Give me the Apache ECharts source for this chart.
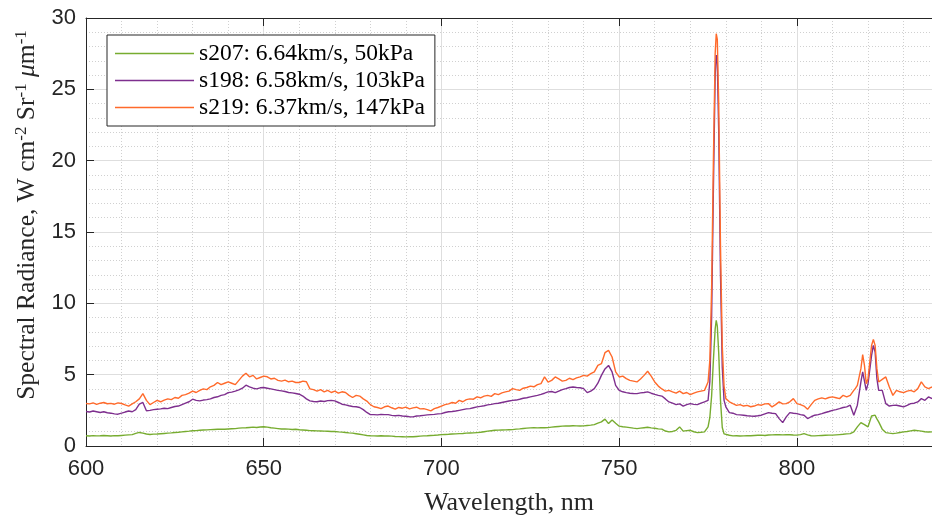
<!DOCTYPE html>
<html>
<head>
<meta charset="utf-8">
<script src="https://cdn.jsdelivr.net/npm/echarts@6/dist/echarts.min.js"></script>
<style>html,body{margin:0;padding:0;background:#fff;}#c{width:932px;height:521px;}</style>
</head>
<body>
<div id="c"></div>
<script>
const wavelength = [
600,601,602,603,604,605,606,607,608,609,
610,611,612,613,614,615,616,617,618,619,
620,621,622,623,624,625,626,627,628,629,
630,631,632,633,634,635,636,637,638,639,
640,641,642,643,644,645,646,647,648,649,
650,651,652,653,654,655,656,657,658,659,
660,661,662,663,664,665,666,667,668,669,
670,671,672,673,674,675,676,677,678,679,
680,681,682,683,684,685,686,687,688,689,
690,691,692,693,694,695,696,697,698,699,
700,701,702,703,704,705,706,707,708,709,
710,711,712,713,714,715,716,717,718,719,
720,721,722,723,724,725,726,727,728,729,
730,731,732,733,734,735,736,737,738,739,
740,741,742,743,744,745,746,747,748,749,
750,751,752,753,754,755,756,757,758,759,
760,761,762,763,764,765,766,767,768,769,
770,771,772,773,774,775,
775.5,776,776.5,777,777.3,777.6,778,778.5,779,779.5,780,
781,782,783,784,785,786,787,788,789,790,
791,792,793,794,795,796,797,798,799,800,
801,802,803,804,805,806,807,808,809,810,
811,812,813,814,815,816,
816.5,817,818,818.5,819,819.5,820,821,821.5,822,822.5,
823,824,825,826,827,828,829,830,831,832,
833,834,835,836,837,838
];

const s207 = [
0.72,0.7,0.73,0.71,0.72,0.74,0.72,0.7,0.73,0.72,
0.74,0.76,0.78,0.8,0.88,0.95,0.9,0.84,0.81,0.83,
0.84,0.86,0.88,0.9,0.92,0.95,0.96,0.99,1.02,1.04,
1.07,1.08,1.1,1.12,1.13,1.15,1.16,1.17,1.18,1.17,
1.19,1.21,1.22,1.25,1.27,1.28,1.3,1.32,1.3,1.33,
1.35,1.32,1.28,1.25,1.22,1.19,1.2,1.18,1.16,1.17,
1.14,1.12,1.1,1.08,1.07,1.06,1.05,1.04,1.03,1.02,
1.02,0.99,0.97,0.95,0.92,0.9,0.86,0.82,0.78,0.74,
0.72,0.71,0.7,0.72,0.7,0.71,0.69,0.67,0.66,0.65,
0.64,0.66,0.65,0.67,0.69,0.71,0.72,0.74,0.75,0.77,
0.8,0.81,0.82,0.84,0.85,0.87,0.88,0.9,0.91,0.92,
0.94,0.96,1.0,1.04,1.07,1.1,1.11,1.12,1.13,1.14,
1.15,1.18,1.2,1.23,1.25,1.27,1.28,1.27,1.29,1.28,
1.29,1.32,1.35,1.37,1.39,1.41,1.4,1.42,1.41,1.4,
1.41,1.44,1.46,1.5,1.6,1.69,1.88,1.57,1.83,1.6,
1.39,1.35,1.32,1.29,1.25,1.22,1.25,1.28,1.31,1.27,
1.24,1.2,1.18,1.05,0.99,1.02,1.1,1.34,1.04,1.08,
1.1,1.0,0.94,0.96,0.99,1.34,
2.0,3.5,6.0,8.2,8.8,8.4,6.5,3.2,1.3,0.85,0.8,
0.75,0.71,0.72,0.7,0.71,0.73,0.72,0.74,0.75,0.76,
0.74,0.77,0.78,0.79,0.8,0.78,0.8,0.79,0.77,0.76,
0.8,0.87,0.78,0.72,0.71,0.73,0.74,0.75,0.76,0.76,
0.78,0.8,0.82,0.85,0.87,0.99,
1.1,1.34,1.64,1.6,1.5,1.4,1.34,2.1,2.18,2.16,1.9,
1.69,1.18,0.94,0.9,0.87,0.9,0.95,0.99,1.02,1.06,
1.1,1.08,1.04,1.0,0.98,0.99
];

const s198 = [
2.42,2.38,2.45,2.4,2.35,2.4,2.33,2.3,2.25,2.23,
2.3,2.38,2.45,2.4,2.55,2.93,3.05,2.47,2.5,2.55,
2.58,2.6,2.65,2.62,2.7,2.77,2.8,2.9,3.0,3.1,
3.28,3.2,3.16,3.22,3.25,3.3,3.4,3.45,3.55,3.6,
3.74,3.78,3.85,3.93,4.05,4.26,4.15,4.05,4.0,4.08,
4.1,4.05,4.0,3.95,3.9,3.86,3.82,3.75,3.72,3.68,
3.63,3.5,3.3,3.16,3.12,3.1,3.15,3.12,3.18,3.2,
3.16,3.05,2.93,2.88,2.82,2.77,2.75,2.7,2.55,2.35,
2.2,2.2,2.18,2.22,2.2,2.2,2.15,2.12,2.15,2.1,
2.09,2.05,2.04,2.1,2.12,2.15,2.18,2.2,2.22,2.25,
2.27,2.35,2.4,2.42,2.45,2.5,2.55,2.6,2.62,2.68,
2.74,2.78,2.82,2.88,2.92,2.97,3.0,3.05,3.1,3.15,
3.2,3.22,3.28,3.35,3.38,3.44,3.5,3.55,3.62,3.7,
3.79,3.82,3.74,3.85,3.95,4.02,4.1,4.14,4.1,4.08,
4.02,3.74,3.85,4.02,4.4,4.95,5.4,5.65,5.19,4.25,
3.9,3.8,3.74,3.7,3.68,3.67,3.72,3.75,3.79,3.7,
3.62,3.55,3.5,3.3,3.09,3.0,2.9,2.95,2.8,2.9,
2.97,2.92,2.9,3.0,3.09,3.2,
4.5,9.0,18.0,26.0,27.4,26.8,22.0,12.0,5.5,3.2,2.74,
2.34,2.3,2.2,2.18,2.16,2.12,2.1,2.09,2.12,2.16,
2.25,2.34,2.3,2.27,1.92,1.64,2.04,2.34,2.3,2.27,
2.2,2.16,1.92,2.05,2.16,2.2,2.27,2.35,2.42,2.5,
2.55,2.62,2.7,2.74,2.86,2.16,
2.04,2.86,4.49,5.19,5.07,3.9,4.37,6.35,7.05,6.59,4.72,
3.9,3.9,2.97,2.8,2.85,2.86,2.8,2.74,2.85,2.97,
3.0,3.09,3.32,3.2,3.44,3.32
];

const s219 = [
2.98,2.95,3.02,2.92,3.0,3.05,2.96,2.99,2.93,3.02,
2.98,2.88,2.8,2.95,3.1,3.3,3.67,3.2,2.9,3.05,
3.2,3.1,3.22,3.3,3.25,3.4,3.35,3.55,3.6,3.7,
3.85,3.75,3.9,4.0,3.95,4.15,4.25,4.45,4.3,4.4,
4.5,4.4,4.3,4.6,4.9,5.1,4.85,4.95,4.7,4.8,
4.9,4.85,4.7,4.75,4.6,4.55,4.62,4.5,4.55,4.45,
4.45,4.55,4.5,4.0,3.95,3.85,3.95,3.8,3.9,3.75,
3.85,3.7,3.8,3.75,3.55,3.4,3.55,3.5,3.3,3.15,
2.9,2.75,2.7,2.62,2.75,2.8,2.68,2.58,2.7,2.65,
2.72,2.6,2.67,2.72,2.6,2.62,2.55,2.46,2.62,2.7,
2.8,2.9,2.95,3.05,3.0,3.2,3.1,3.25,3.3,3.28,
3.44,3.38,3.5,3.55,3.48,3.67,3.6,3.72,3.79,3.85,
4.02,3.95,3.9,4.05,4.1,4.2,4.15,4.3,4.37,4.84,
4.48,4.6,4.84,4.7,4.55,4.6,4.75,4.65,4.77,4.85,
4.95,4.9,5.07,5.2,5.65,5.77,6.54,6.7,6.24,5.19,
4.84,4.9,4.72,4.6,4.55,4.49,4.7,4.95,5.24,4.9,
4.49,4.2,4.0,3.85,3.9,3.79,3.7,3.85,3.67,3.75,
3.6,3.7,3.79,3.85,3.9,4.49,
6.0,11.0,20.0,27.5,28.9,28.5,24.0,14.0,7.0,4.2,3.32,
3.1,2.97,2.85,2.9,2.8,2.85,2.75,2.8,2.9,2.86,
2.95,2.97,2.74,2.9,3.09,2.95,2.97,3.1,3.32,2.97,
2.9,2.8,2.57,2.9,3.2,3.3,3.37,3.3,3.4,3.44,
3.38,3.32,3.55,3.45,3.55,3.9,
4.05,4.25,5.42,6.4,5.65,4.37,4.72,7.05,7.47,7.05,5.42,
4.49,4.67,4.84,4.14,3.55,3.9,3.8,3.74,3.85,3.9,
3.8,4.02,4.49,4.14,4.02,4.14
];

const seriesNames = ['s207: 6.64km/s, 50kPa', 's198: 6.58km/s, 103kPa', 's219: 6.37km/s, 147kPa'];
const seriesValues = [s207, s198, s219];
const seriesColors = ['#77AC30', '#7E2F8E', '#FF6A2B'];
const xRange = [600, 838];
const xStep = 50;
const yRange = [0, 30];
const yStep = 5;

const chart = echarts.init(document.getElementById('c'), null, {renderer: 'canvas'});
const axisColor = '#262626';
const labelFont = "'Liberation Sans', Arial, sans-serif";
const serifFont = "'Liberation Serif', 'Times New Roman', serif";

const series = seriesNames.map((name, i) => ({
  name: name,
  type: 'line',
  symbol: 'none',
  showSymbol: false,
  animation: false,
  data: wavelength.map((w, j) => [w, seriesValues[i][j]]),
  lineStyle: {color: seriesColors[i], width: 1.4},
  itemStyle: {color: seriesColors[i]},
  z: 3 + i
}));

chart.setOption({
  animation: false,
  backgroundColor: '#fff',
  grid: {left: 86, top: 18, right: 0, bottom: 74, containLabel: false},
  legend: {
    orient: 'vertical',
    left: 107, top: 35,
    padding: [5, 10, 5, 8],
    backgroundColor: '#fff',
    borderColor: axisColor,
    borderWidth: 1,
    borderRadius: 0,
    icon: 'rect',
    itemWidth: 79,
    itemHeight: 1.6,
    itemGap: 0,
    textStyle: {fontFamily: serifFont, fontSize: 23.5, color: '#000', lineHeight: 27},
    data: seriesNames
  },
  xAxis: [{
    type: 'value', min: xRange[0], max: xRange[1], interval: xStep,
    name: 'Wavelength, nm', nameLocation: 'middle', nameGap: 44,
    nameTextStyle: {fontFamily: serifFont, fontSize: 26, color: axisColor},
    axisLine: {show: true, lineStyle: {color: axisColor, width: 1}},
    axisTick: {show: true, inside: true, length: 8, lineStyle: {color: axisColor}},
    axisLabel: {fontFamily: labelFont, fontSize: 22, color: axisColor, margin: 12, showMaxLabel: false,
      formatter: v => (v % xStep === 0 ? String(v) : '')},
    splitLine: {show: true, lineStyle: {color: '#dedede', width: 1}},
    minorTick: {show: false, splitNumber: 5},
    minorSplitLine: {show: true, lineStyle: {color: '#d0d0d0', width: 1, type: [1, 2]}}
  }, {
    type: 'value', position: 'top', min: xRange[0], max: xRange[1], interval: xStep,
    axisLine: {show: true, lineStyle: {color: axisColor, width: 1}},
    axisTick: {show: true, inside: true, length: 8, lineStyle: {color: axisColor}},
    axisLabel: {show: false}, splitLine: {show: false}
  }],
  yAxis: [{
    type: 'value', min: yRange[0], max: yRange[1], interval: yStep,
    name: 'Spectral Radiance, W cm{sup|-2} Sr{sup|-1} {mu|μ}m{sup|-1}',
    nameLocation: 'middle', nameGap: 40, nameRotate: 90,
    nameTextStyle: {fontFamily: serifFont, fontSize: 25.5, color: axisColor, padding: [0, 0, 0, 34],
      rich: {
        sup: {fontFamily: serifFont, fontSize: 17, color: axisColor, padding: [0, 0, 13, 0]},
        mu: {fontFamily: serifFont, fontSize: 25.5, fontStyle: 'italic', color: axisColor}
      }},
    axisLine: {show: true, lineStyle: {color: axisColor, width: 1}},
    axisTick: {show: true, inside: true, length: 8, lineStyle: {color: axisColor}},
    axisLabel: {fontFamily: labelFont, fontSize: 22, color: axisColor, margin: 10},
    splitLine: {show: true, lineStyle: {color: '#dedede', width: 1}},
    minorTick: {show: false, splitNumber: 5},
    minorSplitLine: {show: true, lineStyle: {color: '#d0d0d0', width: 1, type: [1, 2]}}
  }],
  series: series
});
</script>
</body>
</html>
